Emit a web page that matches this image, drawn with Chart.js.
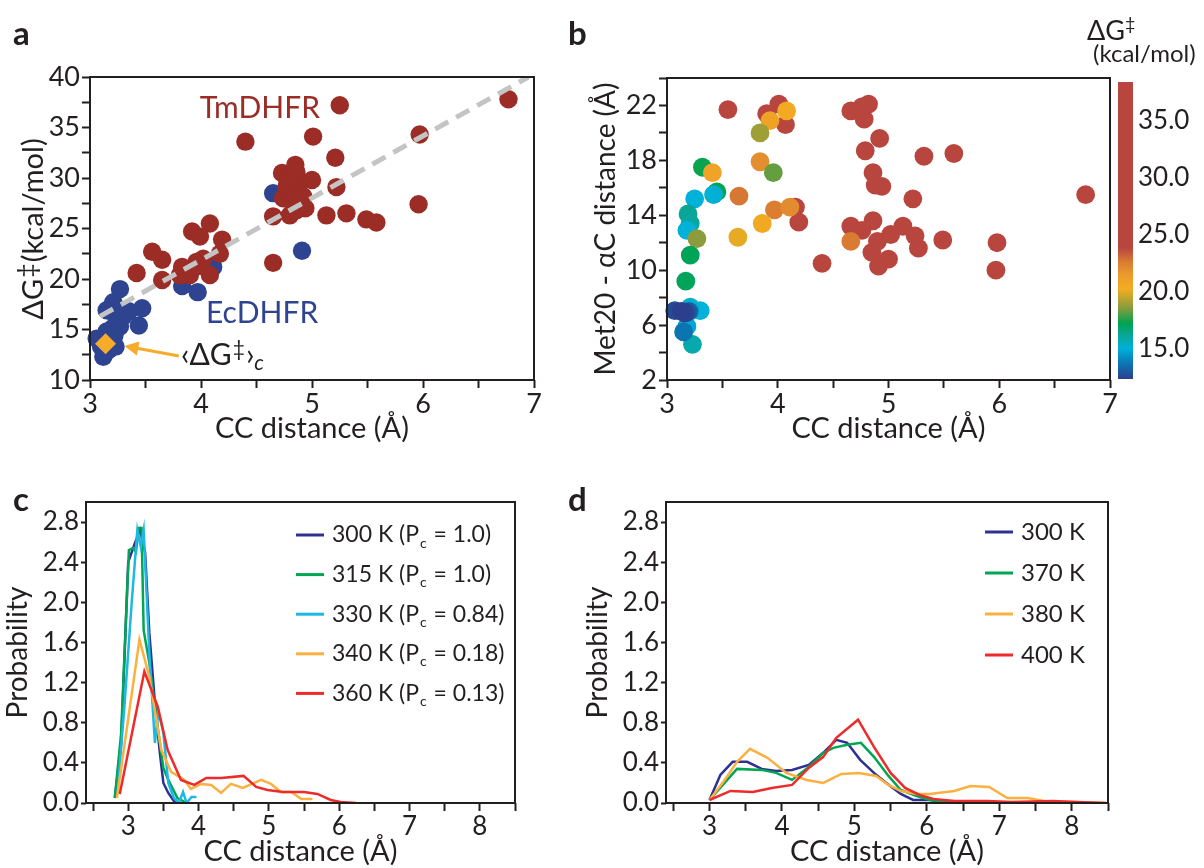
<!DOCTYPE html>
<html>
<head>
<meta charset="utf-8">
<script src="https://cdn.jsdelivr.net/npm/chart.js@4.4.1/dist/chart.umd.min.js"></script>
<style>
  html, body { margin: 0; padding: 0; background: #fff; }
  #wrap { position: relative; width: 1204px; height: 868px; overflow: hidden; font-family: Lato, sans-serif; color: #231f20; }
  canvas { position: absolute; left: 0; top: 0; }
  .tag { position: absolute; font-weight: bold; font-size: 33px; line-height: 1; }
  .txt { position: absolute; line-height: 1; white-space: nowrap; }
</style>
</head>
<body>
<div id="wrap">
  <canvas id="chartA" width="1204" height="868"></canvas>
  <canvas id="chartB" width="1204" height="868"></canvas>
  <canvas id="chartBar" width="1204" height="868"></canvas>
  <canvas id="chartC" width="1204" height="868"></canvas>
  <canvas id="chartD" width="1204" height="868"></canvas>
  <div class="tag" style="left:13px;top:16px">a</div>
  <div class="tag" style="left:568px;top:16px">b</div>
  <div class="tag" style="left:13px;top:482px">c</div>
  <div class="tag" style="left:568px;top:482px">d</div>
  <div class="txt" style="left:1087px;top:14px;font-size:27px">ΔG<span style="font-size:18px;vertical-align:10px">‡</span></div>
  <div class="txt" style="left:1093px;top:41px;font-size:24px">(kcal/mol)</div>
</div>
<script>
// ---- panel a : barrier vs CC distance ----
const aRedX = [5.25, 6.77, 4.40, 5.01, 5.97, 5.21, 5.22, 5.13, 5.31, 5.49, 5.58, 5.96, 4.65, 4.65,
  4.73, 4.85, 4.80, 4.89, 5.00, 4.74, 4.86, 4.94, 4.80, 4.77, 4.88, 4.86, 4.78, 4.92, 4.83,
  4.19, 4.17, 4.08, 3.99, 3.92, 3.96, 3.83, 3.90, 4.08, 3.81, 3.65, 3.65, 3.56, 3.42, 4.02, 3.97];
const aRedY = [37.2, 37.8, 33.6, 34.1, 34.3, 32.0, 29.1, 26.3, 26.5, 25.9, 25.6, 27.4, 21.6, 26.2,
  30.5, 31.3, 30.3, 29.5, 29.8, 28.0, 26.8, 27.0, 26.3, 29.1, 28.5, 30.6, 29.6, 28.2, 27.4,
  23.9, 22.5, 25.5, 24.2, 24.7, 21.7, 21.2, 20.4, 20.4, 20.4, 21.9, 19.9, 22.7, 20.6, 22.0, 21.3];
const aBlueX = [4.65, 4.91, 4.83, 4.11, 3.83, 3.97, 3.27, 3.21, 3.15, 3.47, 3.44, 3.30, 3.27,
  3.20, 3.09, 3.12, 3.17, 3.23, 3.06, 3.15, 3.19, 3.24, 3.10, 3.14, 3.35, 3.22];
const aBlueY = [28.5, 22.8, 28.1, 21.2, 19.3, 18.7, 19.0, 17.7, 16.9, 17.1, 15.4, 16.3, 15.3,
  15.1, 14.0, 12.3, 13.0, 13.3, 14.1, 14.8, 17.2, 16.0, 13.3, 12.7, 16.8, 14.4];
const aMeanX = [3.14];
const aMeanY = [13.6];
const aFitX = [3.09, 6.95];
const aFitY = [16.3, 40];
const aXTicks = [3, 3.5, 4, 4.5, 5, 5.5, 6, 6.5, 7];
const aYTicks = [10, 12.5, 15, 17.5, 20, 22.5, 25, 27.5, 30, 32.5, 35, 37.5, 40];

// ---- panel b : Met20 distance vs CC distance, coloured by barrier ----
const bX = [4.66, 4.76, 4.82, 4.78, 4.92, 4.79, 5.32, 5.59, 4.86, 4.88, 4.94, 5.22, 6.78, 4.66,
  4.76, 4.86, 4.90, 5.02, 5.13, 5.24, 5.27, 5.49, 4.85, 5.00, 4.91, 4.40, 5.98, 5.97,
  4.66, 3.55, 3.90, 4.01, 4.07, 4.16, 4.19, 4.08, 3.93, 3.84, 3.84, 3.96, 3.32, 3.41, 3.45,
  3.42, 3.25, 3.65, 3.97, 4.11, 3.86, 3.64, 3.19, 3.21, 3.18, 3.27, 3.21, 3.17,
  3.30, 3.21, 3.18, 3.23, 3.15, 3.20, 3.18, 3.07, 3.16, 3.13];
const bY = [21.6, 21.9, 22.1, 21.0, 19.6, 18.7, 18.3, 18.5, 17.1, 16.2, 16.1, 15.2, 15.5, 13.2,
  12.9, 13.6, 12.1, 12.6, 13.2, 12.5, 11.6, 12.2, 11.3, 10.8, 10.3, 10.5, 12.0, 10.0,
  12.1, 21.7, 21.4, 22.1, 20.6, 14.6, 13.5, 21.6, 20.9, 20.0, 17.9, 17.1, 17.5, 17.1, 15.7,
  15.5, 15.2, 15.4, 14.4, 14.6, 13.4, 12.4, 14.1, 13.4, 12.9, 12.3, 11.1, 9.2,
  7.05, 7.3, 5.9, 4.6, 5.5, 7.0, 6.95, 7.05, 6.9, 7.0];
const bDG = [31.3, 30.2, 29.8, 30.5, 29.4, 28.6, 32.0, 25.6, 29.1, 27.0, 26.8, 26.5, 37.8, 26.2,
  28.0, 30.6, 27.4, 34.1, 26.3, 29.1, 25.9, 25.9, 28.5, 29.6, 30.3, 33.6, 27.4, 34.3,
  22.6, 24.0, 29.0, 31.0, 28.5, 25.5, 27.0, 20.4, 20.9, 18.9, 21.9, 18.2, 17.3, 20.8, 17.1,
  15.1, 15.0, 22.7, 22.5, 22.0, 20.5, 20.0, 16.2, 16.0, 15.0, 18.6, 17.1, 17.0,
  15.0, 15.2, 14.8, 15.8, 13.6, 13.2, 12.8, 12.6, 12.4, 12.3];
const bXTicks = [3, 3.5, 4, 4.5, 5, 5.5, 6, 6.5, 7];
const bYTicks = [2, 4, 6, 8, 10, 12, 14, 16, 18, 20, 22, 24];

// colour bar
const cmapValues = [12.3, 13.7, 15.0, 16.0, 17.2, 18.6, 20.2, 21.5, 22.6, 23.8, 38.4];
const cmapColors = ['#2c3f8c', '#0a78b4', '#00b1da', '#0aa7a0', '#00a34f', '#8c9c3c',
  '#f3ad22', '#ea9a2c', '#d97b33', '#b8463f', '#b8463f'];
const barTicks = [15, 20, 25, 30, 35];

// ---- panel c : CC distance distributions, 300-360 K ----
const cTemps = ['300 K', '315 K', '330 K', '340 K', '360 K'];
const cPc = ['1.0', '1.0', '0.84', '0.18', '0.13'];
const c300X = [2.81, 2.9, 3.0, 3.05, 3.1, 3.17, 3.24, 3.3, 3.38, 3.45, 3.5, 3.57, 3.65, 3.7];
const c300Y = [0.05, 0.6, 2.4, 2.5, 2.6, 2.72, 2.5, 1.7, 1.0, 0.5, 0.2, 0.1, 0.02, 0.0];
const c315X = [2.81, 2.9, 3.01, 3.07, 3.11, 3.15, 3.19, 3.22, 3.3, 3.41, 3.5, 3.57, 3.7, 3.83];
const c315Y = [0.05, 0.7, 2.52, 2.54, 2.5, 2.74, 2.74, 1.72, 1.4, 0.8, 0.35, 0.23, 0.05, 0.0];
const c330X = [2.85, 2.95, 3.05, 3.13, 3.18, 3.22, 3.3, 3.38, 3.43, 3.5, 3.57, 3.65, 3.72, 3.78, 3.83, 3.9, 3.97];
const c330Y = [0.1, 1.0, 2.0, 2.72, 2.55, 2.72, 1.5, 0.6, 0.91, 0.7, 0.2, 0.05, 0.0, 0.11, 0.0, 0.06, 0.06];
const c340X = [2.84, 3.16, 3.30, 3.47, 3.61, 3.80, 3.89, 4.04, 4.18, 4.32, 4.46, 4.63, 4.89, 5.03, 5.17, 5.32, 5.46, 5.62];
const c340Y = [0.05, 1.63, 1.26, 0.53, 0.31, 0.23, 0.14, 0.19, 0.18, 0.10, 0.19, 0.15, 0.23, 0.19, 0.11, 0.11, 0.04, 0.04];
const c360X = [2.88, 3.23, 3.42, 3.56, 3.75, 3.94, 4.11, 4.32, 4.64, 4.82, 4.98, 5.2, 5.5, 5.69, 5.88, 6.02, 6.24];
const c360Y = [0.09, 1.31, 0.96, 0.53, 0.23, 0.18, 0.25, 0.25, 0.27, 0.16, 0.13, 0.11, 0.11, 0.09, 0.03, 0.01, 0.0];

// ---- panel d : CC distance distributions, 300-400 K ----
const dTemps = ['300 K', '370 K', '380 K', '400 K'];
const d300X = [3.0, 3.15, 3.32, 3.52, 3.72, 3.92, 4.14, 4.37, 4.57, 4.75, 4.9, 5.08, 5.27, 5.44, 5.64, 5.81, 6.04, 6.32];
const d300Y = [0.03, 0.28, 0.41, 0.41, 0.34, 0.32, 0.33, 0.38, 0.5, 0.63, 0.6, 0.43, 0.3, 0.2, 0.09, 0.03, 0.03, 0.0];
const d370X = [3.0, 3.38, 3.72, 3.92, 4.14, 4.37, 4.57, 4.71, 4.9, 5.09, 5.27, 5.47, 5.64, 5.86, 6.04, 6.3, 6.6];
const d370Y = [0.03, 0.34, 0.33, 0.3, 0.23, 0.36, 0.5, 0.55, 0.58, 0.6, 0.46, 0.27, 0.13, 0.07, 0.03, 0.01, 0.0];
const d380X = [3.0, 3.21, 3.38, 3.56, 3.8, 4.06, 4.34, 4.57, 4.82, 5.06, 5.3, 5.47, 5.64, 5.86, 6.04, 6.38, 6.6, 6.86, 7.11, 7.39, 7.62, 8.0, 8.47];
const d380Y = [0.03, 0.23, 0.41, 0.54, 0.45, 0.3, 0.23, 0.2, 0.29, 0.3, 0.27, 0.18, 0.12, 0.09, 0.09, 0.12, 0.17, 0.16, 0.05, 0.05, 0.02, 0.01, 0.0];
const d400X = [3.0, 3.29, 3.6, 3.86, 4.14, 4.37, 4.57, 4.75, 5.05, 5.27, 5.5, 5.7, 5.9, 6.09, 6.38, 6.6, 6.83, 7.17, 7.73, 8.07, 8.47];
const d400Y = [0.03, 0.12, 0.11, 0.15, 0.18, 0.35, 0.46, 0.65, 0.83, 0.56, 0.3, 0.15, 0.08, 0.04, 0.02, 0.02, 0.02, 0.01, 0.02, 0.01, 0.0];
const cdXTicks = [2.5, 3, 3.5, 4, 4.5, 5, 5.5, 6, 6.5, 7, 7.5, 8, 8.5];
const cdYTicks = [0, 0.4, 0.8, 1.2, 1.6, 2.0, 2.4, 2.8];

const INK = '#231f20';
const lineColors = ['#2e3192', '#00a651', '#1eb8e4', '#fbb040', '#ee2b2b'];
const dColors = ['#2e3192', '#00a651', '#fbb040', '#ee2b2b'];

Chart.defaults.font.family = 'Lato';
Chart.defaults.color = INK;

const pts = (xs, ys) => xs.map((x, i) => ({ x: x, y: ys[i] }));

function hexToRgb(h) {
  return [parseInt(h.slice(1, 3), 16), parseInt(h.slice(3, 5), 16), parseInt(h.slice(5, 7), 16)];
}
function colourFor(v) {
  if (v <= cmapValues[0]) return cmapColors[0];
  for (let i = 1; i < cmapValues.length; i++) {
    if (v <= cmapValues[i]) {
      const t = (v - cmapValues[i - 1]) / (cmapValues[i] - cmapValues[i - 1]);
      const a = hexToRgb(cmapColors[i - 1]), b = hexToRgb(cmapColors[i]);
      const c = a.map((q, k) => Math.round(q + (b[k] - q) * t));
      return `rgb(${c[0]},${c[1]},${c[2]})`;
    }
  }
  return cmapColors[cmapColors.length - 1];
}

// chart area in page pixels, y axis box starts at boxLeft, x axis box is xH tall
function layoutFor(area, boxLeft, xH) {
  return { padding: { left: boxLeft, top: area.top, right: 1204 - area.right, bottom: 868 - area.bottom - xH } };
}

function xAxis(min, max, ticks, fmt, xH, tickSize, pad, title) {
  return {
    type: 'linear', min: min, max: max,
    afterBuildTicks: s => { s.ticks = ticks.map(v => ({ value: v })); },
    afterFit: s => { s.height = xH; },
    grid: { drawOnChartArea: false, drawTicks: true, tickLength: 8, tickColor: INK, tickWidth: 2 },
    border: { display: false },
    ticks: { autoSkip: false, maxRotation: 0, padding: pad, color: INK,
      font: { size: tickSize, lineHeight: 1 }, callback: fmt },
    title: { display: !!title, text: title || '', color: INK, padding: 0,
      font: { size: 29, lineHeight: 1 } }
  };
}
function yAxis(min, max, ticks, fmt, yW, tickSize, tickLen, title, titleSize) {
  return {
    type: 'linear', min: min, max: max,
    afterBuildTicks: s => { s.ticks = ticks.map(v => ({ value: v })); },
    afterFit: s => { s.width = yW; },
    grid: { drawOnChartArea: false, drawTicks: true, tickLength: tickLen, tickColor: INK, tickWidth: 2 },
    border: { display: false },
    ticks: { autoSkip: false, padding: 2, color: INK, font: { size: tickSize, lineHeight: 1 }, callback: fmt },
    title: { display: !!title, text: title || '', color: INK, padding: 0,
      font: { size: titleSize || 28, lineHeight: 1 } }
  };
}

const boxPlugin = {
  id: 'box',
  afterDraw(chart) {
    const { ctx, chartArea: a } = chart;
    ctx.save();
    ctx.strokeStyle = INK;
    ctx.lineWidth = 2;
    ctx.strokeRect(a.left, a.top, a.right - a.left, a.bottom - a.top);
    ctx.restore();
  }
};

const baseOpts = {
  responsive: false, animation: false, devicePixelRatio: 1,
  plugins: { legend: { display: false }, tooltip: { enabled: false } }
};

// ---------- panel a ----------
const areaA = { left: 90, top: 77, right: 534, bottom: 380 };
const aRed = '#9b2d26', aBlue = '#2e4491', aOrange = '#f6ab2a';

const annotA = {
  id: 'annotA',
  afterDatasetsDraw(chart) {
    const { ctx, scales: { x, y } } = chart;
    ctx.save();
    ctx.textBaseline = 'middle';
    ctx.textAlign = 'center';
    ctx.font = '30px Lato';
    ctx.fillStyle = aRed;
    ctx.fillText('TmDHFR', x.getPixelForValue(4.53), y.getPixelForValue(36.9));
    ctx.fillStyle = aBlue;
    ctx.fillText('EcDHFR', x.getPixelForValue(4.55), y.getPixelForValue(16.6));

    // arrow to the mean
    const x0 = x.getPixelForValue(3.80), y0 = y.getPixelForValue(12.38);
    const x1 = x.getPixelForValue(3.31), y1 = y.getPixelForValue(13.37);
    const ang = Math.atan2(y1 - y0, x1 - x0);
    ctx.strokeStyle = aOrange; ctx.fillStyle = aOrange; ctx.lineWidth = 3;
    ctx.beginPath();
    ctx.moveTo(x0, y0);
    ctx.lineTo(x1 - 10 * Math.cos(ang), y1 - 10 * Math.sin(ang));
    ctx.stroke();
    ctx.beginPath();
    ctx.moveTo(x1, y1);
    ctx.lineTo(x1 - 14 * Math.cos(ang) + 7 * Math.sin(ang), y1 - 14 * Math.sin(ang) - 7 * Math.cos(ang));
    ctx.lineTo(x1 - 14 * Math.cos(ang) - 7 * Math.sin(ang), y1 - 14 * Math.sin(ang) + 7 * Math.cos(ang));
    ctx.closePath();
    ctx.fill();

    // <dG‡>c label
    ctx.fillStyle = INK;
    ctx.textAlign = 'left';
    ctx.textBaseline = 'alphabetic';
    let px = x.getPixelForValue(3.82);
    const py = y.getPixelForValue(11.49);
    ctx.font = '30px Lato';
    ctx.fillText('‹ΔG', px, py); px += ctx.measureText('‹ΔG').width + 1;
    ctx.font = '21px Lato';
    ctx.fillText('‡', px, py - 9); px += ctx.measureText('‡').width + 1;
    ctx.font = '30px Lato';
    ctx.fillText('›', px, py); px += ctx.measureText('›').width;
    ctx.font = 'italic 21px Lato';
    ctx.fillText('c', px, py + 5);

    // y axis title with raised double dagger
    ctx.save();
    const parts = [['ΔG', 29, 0], ['‡', 25, -7], ['(kcal/mol)', 29, 0]];
    let total = 0;
    parts.forEach(p => { ctx.font = p[1] + 'px Lato'; total += ctx.measureText(p[0]).width + 1; });
    const a = chart.chartArea;
    ctx.translate(43, (a.top + a.bottom) / 2);
    ctx.rotate(-Math.PI / 2);
    let tx = -total / 2;
    parts.forEach(p => {
      ctx.font = p[1] + 'px Lato';
      ctx.fillText(p[0], tx, p[2]);
      tx += ctx.measureText(p[0]).width + 1;
    });
    ctx.restore();
    ctx.restore();
  }
};

new Chart(document.getElementById('chartA'), {
  type: 'scatter',
  data: {
    datasets: [
      { data: pts(aMeanX, aMeanY), pointStyle: 'rectRot', pointRadius: 10.5, backgroundColor: aOrange,
        borderWidth: 0, clip: false, order: 0 },
      { data: pts(aFitX, aFitY), showLine: true, pointRadius: 0, borderColor: '#c4c4c4', borderWidth: 5,
        borderDash: [15, 9], order: 1 },
      { data: pts(aRedX, aRedY), pointRadius: 9.2, backgroundColor: aRed, borderWidth: 0, clip: false, order: 2 },
      { data: pts(aBlueX, aBlueY), pointRadius: 9.2, backgroundColor: aBlue, borderWidth: 0, clip: false, order: 3 }
    ]
  },
  options: Object.assign({}, baseOpts, {
    layout: layoutFor(areaA, 10, 63),
    scales: {
      x: xAxis(3, 7, aXTicks, v => Number.isInteger(v) ? String(v) : '', 63, 27, 3, 'CC distance (Å)'),
      y: yAxis(10, 40, aYTicks, v => v % 5 === 0 ? String(v) : '', 80, 27, 8, '')
    }
  }),
  plugins: [boxPlugin, annotA]
});

// ---------- panel b ----------
const areaB = { left: 667, top: 78, right: 1110, bottom: 380 };
new Chart(document.getElementById('chartB'), {
  type: 'scatter',
  data: {
    datasets: [
      { data: pts(bX, bY), pointRadius: 9.4, backgroundColor: bDG.map(v => colourFor(v)),
        borderWidth: 0, clip: false }
    ]
  },
  options: Object.assign({}, baseOpts, {
    layout: layoutFor(areaB, 592, 63),
    scales: {
      x: xAxis(3, 7, bXTicks, v => Number.isInteger(v) ? String(v) : '', 63, 27, 3, 'CC distance (Å)'),
      y: yAxis(2, 24, bYTicks, v => (v - 2) % 4 === 0 ? String(v) : '', 75, 27, 8, 'Met20 - αC distance (Å)', 28)
    }
  }),
  plugins: [boxPlugin]
});

// ---------- colour bar ----------
const areaBar = { left: 1118, top: 82, right: 1133, bottom: 379 };
const gradientPlugin = {
  id: 'gradient',
  beforeDatasetsDraw(chart) {
    const { ctx, chartArea: a, scales: { y } } = chart;
    const g = ctx.createLinearGradient(0, a.bottom, 0, a.top);
    cmapValues.forEach((v, i) => {
      const t = (y.getPixelForValue(v) - a.bottom) / (a.top - a.bottom);
      g.addColorStop(Math.min(1, Math.max(0, t)), cmapColors[i]);
    });
    ctx.save();
    ctx.fillStyle = g;
    ctx.fillRect(a.left, a.top, a.right - a.left, a.bottom - a.top);
    ctx.restore();
  }
};
new Chart(document.getElementById('chartBar'), {
  type: 'scatter',
  data: { datasets: [{ data: [] }] },
  options: Object.assign({}, baseOpts, {
    layout: { padding: { left: areaBar.left, top: areaBar.top, right: 1204 - areaBar.right - 68, bottom: 868 - areaBar.bottom } },
    scales: {
      x: { type: 'linear', display: false, min: 0, max: 1 },
      y: {
        type: 'linear', position: 'right', min: 12.3, max: 38.4,
        afterBuildTicks: s => { s.ticks = barTicks.map(v => ({ value: v })); },
        afterFit: s => { s.width = 68; },
        grid: { display: false, drawTicks: false, tickLength: 0 }, border: { display: false },
        ticks: { padding: 5, color: INK, font: { size: 26, lineHeight: 1 }, callback: v => v.toFixed(1) }
      }
    }
  }),
  plugins: [gradientPlugin]
});

// ---------- panels c and d ----------
function legendPlugin(id, labels, colors, dx, dy, step, size, withPc) {
  return {
    id: id,
    afterDatasetsDraw(chart) {
      const { ctx, chartArea: a } = chart;
      ctx.save();
      labels.forEach((t, i) => {
        const y = a.top + dy + i * step;
        ctx.strokeStyle = colors[i];
        ctx.lineWidth = 3;
        ctx.beginPath();
        ctx.moveTo(a.left + dx, y);
        ctx.lineTo(a.left + dx + 28, y);
        ctx.stroke();
        ctx.fillStyle = INK;
        ctx.textAlign = 'left';
        ctx.textBaseline = 'middle';
        let x = a.left + dx + 36;
        ctx.font = size + 'px Lato';
        if (withPc) {
          const s1 = t + ' (P';
          ctx.fillText(s1, x, y); x += ctx.measureText(s1).width + 1;
          ctx.font = '14px Lato';
          ctx.fillText('c', x, y + 8); x += ctx.measureText('c').width + 1;
          ctx.font = size + 'px Lato';
          ctx.fillText(' = ' + withPc[i] + ')', x, y);
        } else {
          ctx.fillText(t, x, y);
        }
      });
      ctx.restore();
    }
  };
}

function lineSet(xs, ys, color, order) {
  return { data: pts(xs, ys), showLine: true, pointRadius: 0, borderColor: color, borderWidth: 2.5,
    fill: false, tension: 0, order: order };
}

const cdXFmt = v => Number.isInteger(v) ? String(v) : '';
const cdYFmt = v => v.toFixed(1);

const areaC = { left: 86, top: 502, right: 515, bottom: 803 };
new Chart(document.getElementById('chartC'), {
  type: 'scatter',
  data: {
    datasets: [
      lineSet(c300X, c300Y, lineColors[0], 4),
      lineSet(c315X, c315Y, lineColors[1], 3),
      lineSet(c330X, c330Y, lineColors[2], 2),
      lineSet(c340X, c340Y, lineColors[3], 1),
      lineSet(c360X, c360Y, lineColors[4], 0)
    ]
  },
  options: Object.assign({}, baseOpts, {
    layout: layoutFor(areaC, 4, 63),
    scales: {
      x: xAxis(2.4, 8.5, cdXTicks, cdXFmt, 63, 26, 3, 'CC distance (Å)'),
      y: yAxis(0, 3.0, cdYTicks, cdYFmt, 82, 26, 5, 'Probability', 28)
    }
  }),
  plugins: [boxPlugin, legendPlugin('legC', cTemps, lineColors, 210, 33, 39.6, 23, cPc)]
});

const areaD = { left: 666, top: 502, right: 1108, bottom: 803 };
new Chart(document.getElementById('chartD'), {
  type: 'scatter',
  data: {
    datasets: [
      lineSet(d300X, d300Y, dColors[0], 3),
      lineSet(d370X, d370Y, dColors[1], 2),
      lineSet(d380X, d380Y, dColors[2], 1),
      lineSet(d400X, d400Y, dColors[3], 0)
    ]
  },
  options: Object.assign({}, baseOpts, {
    layout: layoutFor(areaD, 584, 63),
    scales: {
      x: xAxis(2.4, 8.5, cdXTicks, cdXFmt, 63, 26, 3, 'CC distance (Å)'),
      y: yAxis(0, 3.0, cdYTicks, cdYFmt, 82, 26, 5, 'Probability', 28)
    }
  }),
  plugins: [boxPlugin, legendPlugin('legD', dTemps, dColors, 319, 30, 41, 24, null)]
});
</script>
</body>
</html>
